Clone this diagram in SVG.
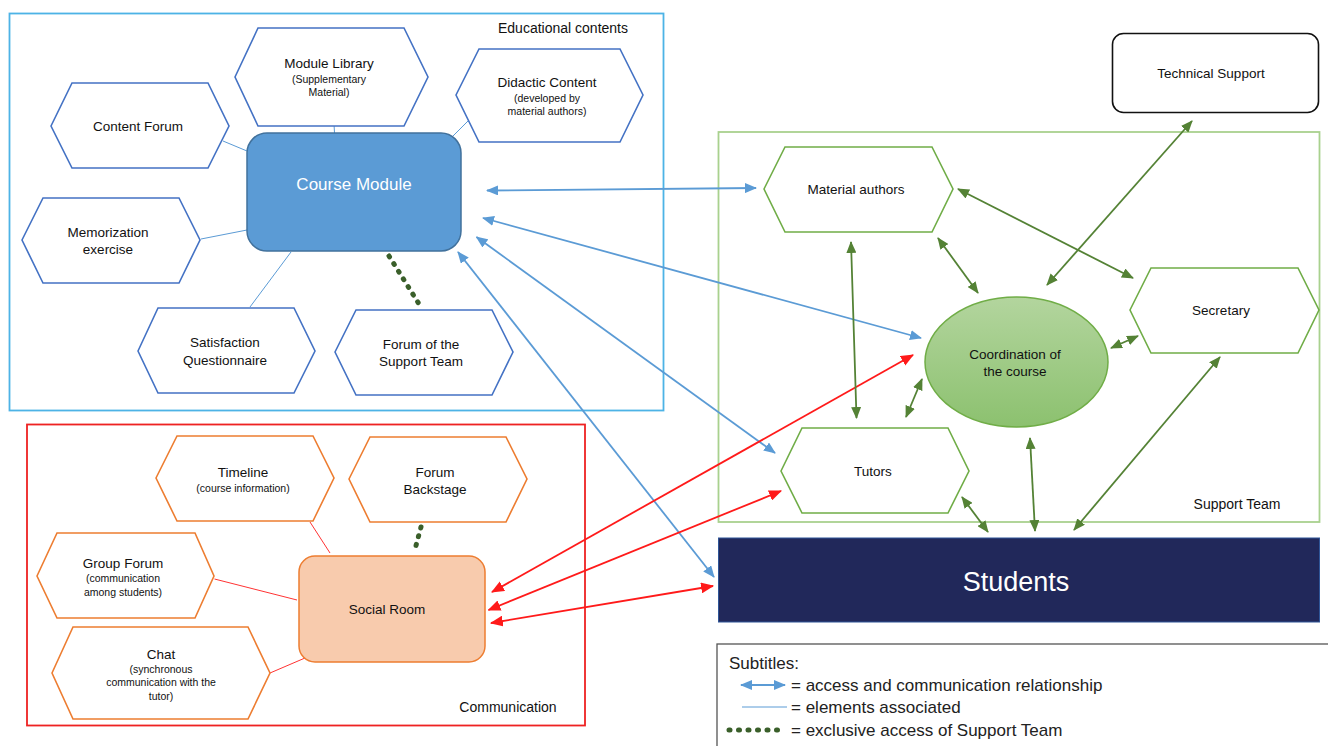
<svg xmlns="http://www.w3.org/2000/svg" width="1328" height="746" viewBox="0 0 1328 746">
<defs>
<marker id="ab" viewBox="0 0 12 10" refX="11" refY="5" markerWidth="12" markerHeight="10" markerUnits="userSpaceOnUse" orient="auto-start-reverse"><path d="M0,0 L12,5 L0,10 z" fill="#5b9bd5"/></marker>
<marker id="ar" viewBox="0 0 12 10" refX="11" refY="5" markerWidth="13" markerHeight="11" markerUnits="userSpaceOnUse" orient="auto-start-reverse"><path d="M0,0 L12,5 L0,10 z" fill="#ff1a1a"/></marker>
<marker id="ag" viewBox="0 0 12 10" refX="11" refY="5" markerWidth="12" markerHeight="10" markerUnits="userSpaceOnUse" orient="auto-start-reverse"><path d="M0,0 L12,5 L0,10 z" fill="#548235"/></marker>
<linearGradient id="gc" x1="0" y1="0" x2="0" y2="1"><stop offset="0" stop-color="#b3d59e"/><stop offset="1" stop-color="#8cc16f"/></linearGradient>
</defs>
<style>
text{font-family:"Liberation Sans",Arial,sans-serif;fill:#111;text-anchor:middle}
.t{font-size:13.5px}
.s{font-size:10.5px}
.hb{fill:#fff;stroke:#4472c4;stroke-width:1.6}
.ho{fill:#fff;stroke:#ed7d31;stroke-width:1.6}
.hg{fill:#fff;stroke:#70ad47;stroke-width:1.6}
.lb{stroke:#5b9bd5;stroke-width:1;fill:none}
.lr{stroke:#ff3333;stroke-width:1;fill:none}
.dot{stroke:#3a5f2a;stroke-width:5;stroke-linecap:round;stroke-dasharray:1 8;fill:none}
.ab{stroke:#5b9bd5;stroke-width:1.8;fill:none;marker-start:url(#ab);marker-end:url(#ab)}
.ar{stroke:#ff1a1a;stroke-width:1.8;fill:none;marker-start:url(#ar);marker-end:url(#ar)}
.ag{stroke:#548235;stroke-width:1.8;fill:none;marker-start:url(#ag);marker-end:url(#ag)}
.lg{font-size:17px;text-anchor:start;fill:#222}
</style>

<g id="group-educational">
<rect x="9.5" y="13.5" width="654" height="397" fill="none" stroke="#4db3e6" stroke-width="1.8"/>
<text x="563" y="33" style="font-size:14px">Educational contents</text>
</g>
<g id="group-communication">
<rect x="27" y="424.5" width="558" height="301" fill="none" stroke="#ee2222" stroke-width="1.8"/>
<text x="508" y="712" style="font-size:14px">Communication</text>
</g>
<g id="group-support">
<rect x="718.5" y="132" width="601" height="390" fill="none" stroke="#a9d18e" stroke-width="1.8"/>
<text x="1237" y="509" style="font-size:14px">Support Team</text>
</g>

<g id="connectors">
<line class="lb" x1="333" y1="106" x2="334.5" y2="133"/>
<line class="lb" x1="468" y1="121" x2="453" y2="136"/>
<line class="lb" x1="223" y1="141" x2="247" y2="151"/>
<line class="lb" x1="201" y1="239" x2="247" y2="230"/>
<line class="lb" x1="250" y1="307" x2="291" y2="252"/>
<line class="dot" x1="389" y1="256" x2="419" y2="304"/>
<line class="lr" x1="310" y1="522" x2="330" y2="553"/>
<line class="lr" x1="214.5" y1="579" x2="297" y2="600"/>
<line class="lr" x1="270" y1="673" x2="305" y2="658"/>
<line class="dot" x1="421" y1="527" x2="414" y2="553"/>

<line class="ab" x1="487" y1="190.5" x2="756" y2="188"/>
<line class="ab" x1="483" y1="218" x2="921" y2="338"/>
<line class="ab" x1="476.5" y1="237" x2="775" y2="453"/>
<line class="ab" x1="458" y1="252" x2="714" y2="577"/>

<line class="ar" x1="492" y1="592" x2="913" y2="355"/>
<line class="ar" x1="488.5" y1="610" x2="781" y2="491"/>
<line class="ar" x1="491" y1="623" x2="713" y2="586"/>

<line class="ag" x1="851" y1="242" x2="856.5" y2="418"/>
<line class="ag" x1="938" y1="238" x2="978" y2="293"/>
<line class="ag" x1="958" y1="189" x2="1133" y2="278"/>
<line class="ag" x1="1192" y1="121" x2="1047" y2="285"/>
<line class="ag" x1="1111" y1="348" x2="1138" y2="336"/>
<line class="ag" x1="906" y1="417" x2="922" y2="379"/>
<line class="ag" x1="1030" y1="438" x2="1035" y2="531"/>
<line class="ag" x1="962" y1="497" x2="988" y2="532"/>
<line class="ag" x1="1220" y1="357" x2="1074" y2="530"/>
</g>

<g id="node-module-library">
<polygon class="hb" points="235,77 258,28 404,28 428,77 404,126 258,126"/>
<text class="t" x="329" y="68">Module Library</text>
<text class="s" x="329" y="83">(Supplementary</text>
<text class="s" x="329" y="96">Material)</text>
</g>
<g id="node-didactic-content">
<polygon class="hb" points="456,95 479,49 620,49 643,95 620,142 479,142"/>
<text class="t" x="547" y="87">Didactic Content</text>
<text class="s" x="547" y="102">(developed by</text>
<text class="s" x="547" y="115">material authors)</text>
</g>
<g id="node-content-forum">
<polygon class="hb" points="51,126 72,83 208,83 229,126 208,168 72,168"/>
<text class="t" x="138" y="131">Content Forum</text>
</g>
<g id="node-memorization">
<polygon class="hb" points="22,240 43,198 179,198 200,240 179,283 43,283"/>
<text class="t" x="108" y="237">Memorization</text>
<text class="t" x="108" y="254">exercise</text>
</g>
<g id="node-satisfaction">
<polygon class="hb" points="138,351 158,308 294,308 315,351 294,393 158,393"/>
<text class="t" x="225" y="347">Satisfaction</text>
<text class="t" x="225" y="365">Questionnaire</text>
</g>
<g id="node-forum-support">
<polygon class="hb" points="335,352 356,310 492,310 513,352 492,395 356,395"/>
<text class="t" x="421" y="349">Forum of the</text>
<text class="t" x="421" y="366">Support Team</text>
</g>
<g id="node-course-module">
<rect x="247" y="133" width="214" height="118" rx="20" fill="#5b9bd5" stroke="#41719c" stroke-width="1.5"/>
<text x="354" y="190" style="font-size:17px;fill:#fff">Course Module</text>
</g>

<g id="node-timeline">
<polygon class="ho" points="156,478 177,436 313,436 334,478 313,521 177,521"/>
<text class="t" x="243" y="477">Timeline</text>
<text class="s" x="243" y="492">(course information)</text>
</g>
<g id="node-forum-backstage">
<polygon class="ho" points="349,479 370,437 506,437 527,479 506,522 370,522"/>
<text class="t" x="435" y="477">Forum</text>
<text class="t" x="435" y="494">Backstage</text>
</g>
<g id="node-group-forum">
<polygon class="ho" points="37,576 57,533 195,533 214,576 195,618 57,618"/>
<text class="t" x="123" y="568">Group Forum</text>
<text class="s" x="123" y="582">(communication</text>
<text class="s" x="123" y="596">among students)</text>
</g>
<g id="node-chat">
<polygon class="ho" points="52,673 73,627 248,627 270,673 248,719 73,719"/>
<text class="t" x="161" y="659">Chat</text>
<text class="s" x="161" y="673">(synchronous</text>
<text class="s" x="161" y="686">communication  with the</text>
<text class="s" x="161" y="700">tutor)</text>
</g>
<g id="node-social-room">
<rect x="299" y="556" width="186" height="106" rx="16" fill="#f8cbad" stroke="#ed7d31" stroke-width="1.5"/>
<text class="t" x="387" y="614">Social Room</text>
</g>

<g id="node-technical-support">
<rect x="1112.5" y="33.5" width="206" height="79" rx="11" fill="#fff" stroke="#111" stroke-width="1.6"/>
<text class="t" x="1211" y="78">Technical Support</text>
</g>
<g id="node-material-authors">
<polygon class="hg" points="764,189 785,147 932,147 953,189 932,232 785,232"/>
<text class="t" x="856" y="194">Material authors</text>
</g>
<g id="node-secretary">
<polygon class="hg" points="1130,310 1151,268 1298,268 1319,310 1298,353 1151,353"/>
<text class="t" x="1221" y="315">Secretary</text>
</g>
<g id="node-coordination">
<ellipse cx="1016.5" cy="362" rx="91.5" ry="65" fill="url(#gc)" stroke="#70ad47" stroke-width="1.5"/>
<text class="t" x="1015" y="359">Coordination of</text>
<text class="t" x="1015" y="376">the course</text>
</g>
<g id="node-tutors">
<polygon class="hg" points="781,471 802,428 948,428 969,471 948,513 802,513"/>
<text class="t" x="873" y="476">Tutors</text>
</g>
<g id="node-students">
<rect x="718.5" y="538" width="601" height="84" fill="#21285a" stroke="#2f5597" stroke-width="1"/>
<text x="1016" y="591" style="font-size:27px;fill:#fff">Students</text>
</g>

<g id="legend">
<rect x="717" y="644" width="620" height="120" fill="#fff" stroke="#555" stroke-width="1.3"/>
<text class="lg" x="729" y="669">Subtitles:</text>
<line class="ab" x1="741" y1="685" x2="785" y2="685"/>
<text class="lg" x="791" y="691">= access and communication relationship</text>
<line class="lb" x1="742" y1="707" x2="787" y2="707"/>
<text class="lg" x="791" y="713">= elements associated</text>
<line class="dot" x1="729" y1="730" x2="786" y2="730" style="stroke-dasharray:1 8.5"/>
<text class="lg" x="791" y="736">= exclusive access of Support Team</text>
</g>
</svg>
